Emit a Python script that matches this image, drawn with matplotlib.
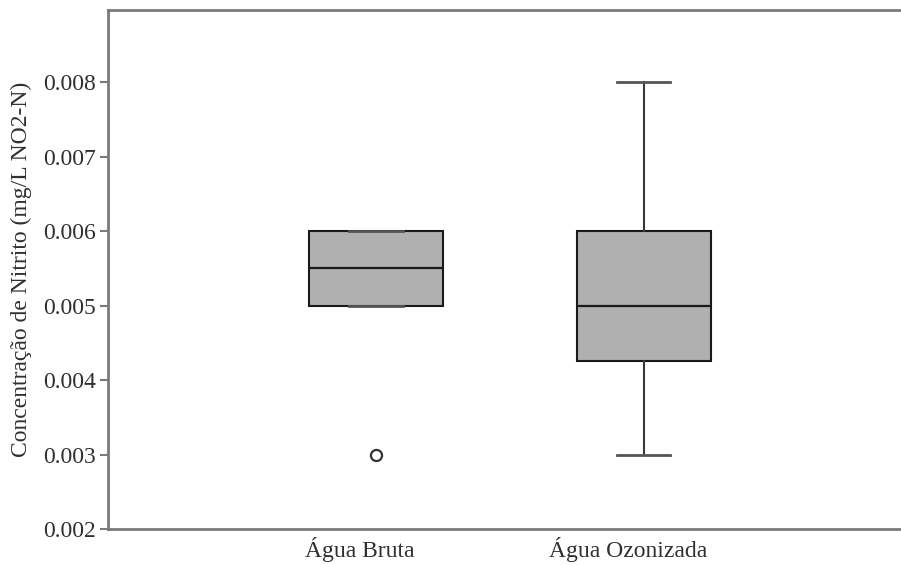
import matplotlib as mpl
import matplotlib.pyplot as plt
import matplotlib.transforms as mtransforms

mpl.rcParams['font.family'] = ['Liberation Serif', 'DejaVu Serif']

# data (SPSS style box summary)
groups = ['Água Bruta', 'Água Ozonizada']
q1 = [0.005, 0.00425]
medians = [0.0055, 0.005]
q3 = [0.006, 0.006]
whisker_low = [0.005, 0.003]
whisker_high = [0.006, 0.008]
outliers = [[0.003], []]

yticks = [0.002, 0.003, 0.004, 0.005, 0.006, 0.007, 0.008]

spine_color = '#7a7a7a'
text_color = '#303030'
fs = 17

stats = []
for i, name in enumerate(groups):
    stats.append(dict(label=name, q1=q1[i], med=medians[i], q3=q3[i],
                      whislo=whisker_low[i], whishi=whisker_high[i],
                      fliers=outliers[i]))

fig = plt.figure(figsize=(9.01, 5.65), dpi=100)
# right edge of the frame falls just outside the picture
ax = fig.add_axes([108 / 901, 36 / 565, 803.5 / 901, 519 / 565])

ax.bxp(stats, positions=[1, 2], widths=0.5, patch_artist=True,
       boxprops=dict(facecolor='#b0b0b0', edgecolor='#1a1a1a', linewidth=1.5),
       medianprops=dict(color='#1a1a1a', linewidth=1.6),
       whiskerprops=dict(color='#3a3a3a', linewidth=1.5),
       capprops=dict(color='#555555', linewidth=2.0),
       capwidths=0.2,
       flierprops=dict(marker='o', markersize=8, markerfacecolor='white',
                       markeredgecolor='#333333', markeredgewidth=1.6))

ax.set_xlim(0, 3)
ax.set_ylim(0.002, 0.00897)
ax.set_yticks(yticks)
ax.set_yticklabels(['%.3f' % v for v in yticks])
ax.set_xticks([1, 2])
ax.set_xticklabels(groups)

for side in ['left', 'top', 'bottom']:
    ax.spines[side].set_color(spine_color)
    ax.spines[side].set_linewidth(2.0)
ax.spines['right'].set_visible(False)

ax.tick_params(axis='y', direction='out', length=6, width=1.5, color=spine_color,
               labelsize=fs, labelcolor=text_color, pad=3)
ax.tick_params(axis='x', length=0, labelsize=fs, labelcolor=text_color, pad=6)

# category labels sit a little left of the boxes in the original
shift = mtransforms.ScaledTranslation(-16 / 100, 0, fig.dpi_scale_trans)
for lbl in ax.get_xticklabels():
    lbl.set_transform(lbl.get_transform() + shift)

ax.set_ylabel('Concentração de Nitrito (mg/L NO2-N)', fontsize=fs,
              color=text_color, labelpad=8)

fig.savefig('out.png', dpi=100)
